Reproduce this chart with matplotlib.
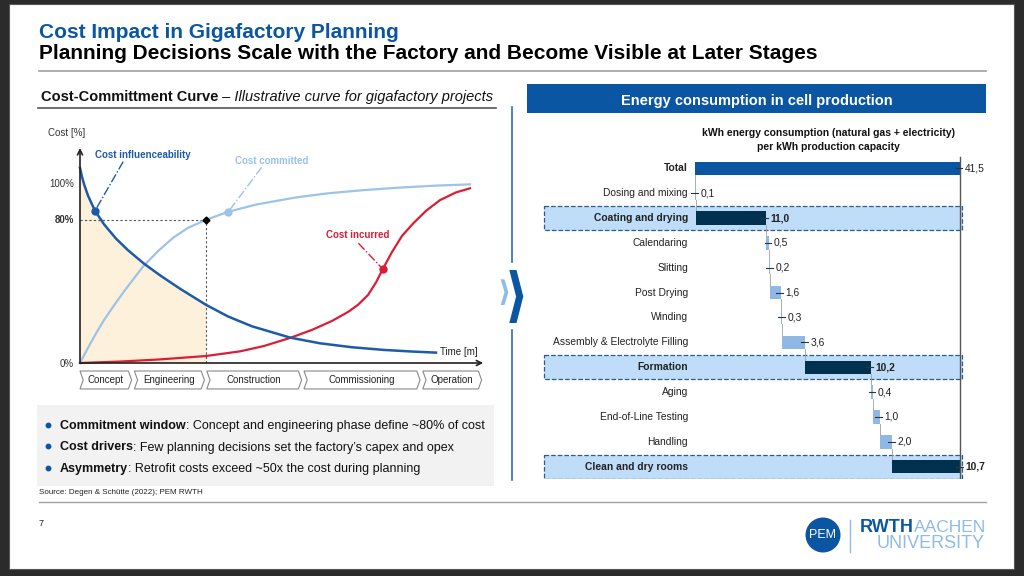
import matplotlib
matplotlib.use("Agg")
import matplotlib.pyplot as plt
from matplotlib import font_manager
from matplotlib.patches import Rectangle, Polygon, Circle

W, H = 1024, 576

# ---- left chart: cost-commitment curves (x = project time 0-100, y = cost %) ----
infl_x = [0, 0.5, 1, 2, 3.75, 6, 9, 12, 16, 20, 25, 31.5, 37, 43, 52.5, 60, 68, 76, 83, 89]
infl_y = [109, 104, 100, 93.5, 85, 77.5, 69.5, 63, 55.5, 49, 41.5, 32.5, 26, 20.5, 14.2, 11, 8.8, 7.3, 6.4, 5.8]

comm_x = [0, 2, 4, 6, 8.3, 11, 15.8, 19.5, 23.3, 27, 31.5, 37.1, 44, 54, 62, 71, 80, 89, 97.5]
comm_y = [0, 8.5, 16.5, 24, 31.5, 40, 54, 62.5, 70, 75.5, 80, 84.5, 88.5, 92.5, 94.8, 96.6, 98, 99.1, 99.8]

incu_x = [0, 10, 20, 31.5, 40, 46, 52.5, 58, 63, 67, 69.5, 72, 74, 75.7, 78, 80.5, 83.3, 86.5, 90, 94, 97.5]
incu_y = [0, 0.8, 2, 3.9, 6.5, 9.5, 14, 18.5, 23.5, 28.5, 32.5, 38, 45, 52.5, 62, 71, 78, 85, 91, 95.3, 97.6]

phase_names = ["Concept", "Engineering", "Construction", "Commissioning", "Operation"]
phase_start = [0, 13.6, 31.7, 56, 85.7]
phase_end = [12.9, 31.1, 55.4, 85, 100.4]

window_end = 31.5      # end of engineering phase
window_share = 80      # % of cost committed

bullet_bold = ["Commitment window", "Cost drivers", "Asymmetry"]
bullet_rest = [": Concept and engineering phase define ~80% of cost",
               ": Few planning decisions set the factory\u2019s capex and opex",
               ": Retrofit costs exceed ~50x the cost during planning"]

# ---- right chart: energy consumption waterfall ----
steps = ["Total", "Dosing and mixing", "Coating and drying", "Calendaring", "Slitting",
         "Post Drying", "Winding", "Assembly & Electrolyte Filling", "Formation",
         "Aging", "End-of-Line Testing", "Handling", "Clean and dry rooms"]
energy = [41.5, 0.1, 11.0, 0.5, 0.2, 1.6, 0.3, 3.6, 10.2, 0.4, 1.0, 2.0, 10.7]
highlight = ["Coating and drying", "Formation", "Clean and dry rooms"]

BLUE = "#0b56a3"
DARK = "#00324f"
LIGHT = "#8fb8e4"
PALE = "#bfdcf8"
RED = "#d91e36"
LBLUE = "#9cc3e9"

names = {f.name for f in font_manager.fontManager.ttflist}
NARROW = "Liberation Sans Narrow" if "Liberation Sans Narrow" in names else "Liberation Sans"
plt.rcParams["font.family"] = ["Liberation Sans", "DejaVu Sans"]

fig = plt.figure(figsize=(W / 100, H / 100), dpi=100, facecolor="#2b2b2b")
renderer = fig.canvas.get_renderer()


def px_axes(x0, y0, x1, y1):
    return fig.add_axes([x0 / W, 1 - y1 / H, (x1 - x0) / W, (y1 - y0) / H])


bg = px_axes(0, 0, W, H)
bg.set_xlim(0, W)
bg.set_ylim(H, 0)
bg.axis("off")
bg.add_patch(Rectangle((9, 4), 1005, 565, fc="white", ec="#555555", lw=0.8))


def rich(x, y, first, rest, size, w1="bold", s2="normal", color="#111111"):
    # y is the baseline
    t = bg.text(x, y, first, fontsize=size, fontweight=w1, va="baseline", color=color)
    x_end = t.get_window_extent(renderer).x1
    bg.text(x_end, y, rest, fontsize=size, fontstyle=s2, va="baseline", color=color)


# slide header
bg.text(39, 38, "Cost Impact in Gigafactory Planning", fontsize=15, fontweight="bold",
        color=BLUE, va="baseline")
bg.text(39, 59, "Planning Decisions Scale with the Factory and Become Visible at Later Stages",
        fontsize=15, fontweight="bold", color="black", va="baseline")
bg.plot([39, 986], [71, 71], color="#a0a0a0", lw=1.2)

# left column header
rich(41, 101, "Cost-Committment Curve", " \u2013 Illustrative curve for gigafactory projects",
     10.5, s2="italic")
bg.plot([38, 496], [107.7, 107.7], color="#555555", lw=1.2)

# bullets box
bg.add_patch(Rectangle((37, 405), 457, 81, fc="#f2f2f2", ec="none"))
for i, (b, r) in enumerate(zip(bullet_bold, bullet_rest)):
    y = 424.5 + i * 21.5
    bg.plot(48, y, "o", ms=3.2, color=BLUE)
    rich(60, y + 4.5, b, r, 9.0)

bg.text(39, 493, "Source: Degen & Sch\u00fctte (2022); PEM RWTH", fontsize=5.8, va="center",
        color="#222222")
bg.plot([39, 986], [502, 502], color="#a0a0a0", lw=1)
bg.text(39, 523, "7", fontsize=6.5, va="center", color="#222222")

# right header box
bg.add_patch(Rectangle((527, 84), 459, 29, fc=BLUE, ec="none"))
bg.text(757, 104.5, "Energy consumption in cell production", fontsize=10.5, fontweight="bold",
        color="white", ha="center", va="baseline")
bg.text(828, 133.3, "kWh energy consumption (natural gas + electricity)", fontsize=7.45,
        fontweight="bold", ha="center", va="center", color="#111111")
bg.text(828, 146.7, "per kWh production capacity", fontsize=7.45, fontweight="bold",
        ha="center", va="center", color="#111111")

# middle divider and chevrons
bg.plot([512, 512], [107, 262], color="#2e6db4", lw=1.2)
bg.plot([512, 512], [330, 480], color="#2e6db4", lw=1.2)
bg.add_patch(Polygon([(500.7, 279.3), (504.5, 279.3), (508.3, 292.2), (504.5, 305),
                      (500.7, 305), (504.5, 292.2)], closed=True, fc="#8fbbe8", ec="none"))
bg.add_patch(Polygon([(509.3, 270), (516.5, 270), (523.3, 296.5), (516.5, 323),
                      (509.3, 323), (516.1, 296.5)], closed=True, fc=BLUE, ec="none"))

# logos
bg.add_patch(Circle((823, 535), 17.5, fc=BLUE, ec="none"))
bg.text(823, 535.5, "PEM", fontsize=9, family=NARROW, color="white", ha="center", va="center")
bg.plot([850, 850], [520, 552], color="#8fbbe8", lw=1)
t = bg.text(860, 527, "RWTH", fontsize=13, family=NARROW, fontweight="bold", color=BLUE,
            va="center")
bg.text(t.get_window_extent(renderer).x1, 527, "AACHEN", fontsize=12.5, family=NARROW,
        color="#8fbbe8", va="center")
bg.text(985, 543, "UNIVERSITY", fontsize=13, family=NARROW, color="#8fbbe8",
        ha="right", va="center")

# ---- cost-commitment chart ----
ax = px_axes(40, 125, 500, 395)
ax.set_xlim(-10, 105)
ax.set_ylim(-17.88, 132.96)
ax.axis("off")
ax.patch.set_alpha(0)

n_fill = infl_x.index(window_end) + 1
ax.fill_between(infl_x[:n_fill], infl_y[:n_fill], 0, color="#fdf1dc", lw=0)
ax.plot([0, window_end], [window_share, window_share], color="#555555", lw=0.8, ls=(0, (2, 2)))
ax.plot([window_end, window_end], [0, window_share], color="#555555", lw=0.8, ls=(0, (2, 2)))

ax.plot(comm_x, comm_y, color=LBLUE, lw=1.6)
ax.plot(incu_x, incu_y, color=RED, lw=1.6)
ax.plot(infl_x, infl_y, color="#1d5ba6", lw=1.8)
ax.plot(window_end, window_share, "D", ms=3.5, color="black")

ax.plot(3.75, 85, "o", ms=5, color="#1d5ba6")
ax.plot(37.1, 84.5, "o", ms=5, color=LBLUE)
ax.plot(75.7, 52.5, "o", ms=5, color=RED)
ax.plot([10.8, 3.75], [112.5, 85], color="#1d5ba6", lw=1, ls="-.")
ax.plot([45.4, 37.1], [109.3, 84.5], color=LBLUE, lw=1, ls="-.")
ax.plot([69.6, 75.7], [66.9, 52.5], color=RED, lw=1, ls="-.")
ax.text(15.7, 116, "Cost influenceability", fontsize=7, fontweight="bold", color="#1d5ba6",
        ha="center", va="center")
ax.text(47.8, 112.8, "Cost committed", fontsize=7, fontweight="bold", color=LBLUE,
        ha="center", va="center")
ax.text(69.4, 71.5, "Cost incurred", fontsize=7, fontweight="bold", color=RED,
        ha="center", va="center")

arrow = dict(arrowstyle="->", lw=1.2, color="#222222", shrinkA=0, shrinkB=0, mutation_scale=9)
ax.annotate("", xy=(0, 120.1), xytext=(0, 0), arrowprops=arrow, annotation_clip=False)
ax.annotate("", xy=(100.8, 0), xytext=(0, 0), arrowprops=arrow, annotation_clip=False)
ax.text(-3.25, 128.5, "Cost [%]", fontsize=7, ha="center", va="center", color="#333333")
ax.text(-1.5, 100, "100%", fontsize=7, ha="right", va="center", color="#333333")
ax.text(-1.5, 80, "80%", fontsize=7, fontweight="bold", ha="right", va="center", color="#333333")
ax.text(-1.5, -0.5, "0%", fontsize=7, ha="right", va="center", color="#333333")
ax.text(94.8, 6.3, "Time [m]", fontsize=7, ha="center", va="center", color="#222222")

top, bot, d = -4.47, -14.5, 0.8
mid = (top + bot) / 2
for name, s, e in zip(phase_names, phase_start, phase_end):
    ax.add_patch(Polygon([(s, top), (e - d, top), (e, mid), (e - d, bot), (s, bot), (s + d, mid)],
                         closed=True, fc="white", ec="#8a8a8a", lw=0.8))
    ax.text((s + e) / 2, mid, name, fontsize=7, ha="center", va="center", color="#222222")

# ---- waterfall ----
aw = px_axes(540, 155.9, 990, 479.1)
aw.set_xlim(-24.27, 46.19)
aw.set_ylim(12.5, -0.5)
aw.axis("off")
aw.patch.set_alpha(0)

lefts, widths, colors = [], [], []
run = 0.0
for i, (name, v) in enumerate(zip(steps, energy)):
    if i == 0:
        lefts.append(0.0)
    else:
        lefts.append(run)
        run += v
    widths.append(v)
    colors.append(BLUE if i == 0 else (DARK if name in highlight else LIGHT))

rows = list(range(len(steps)))
for i, name in enumerate(steps):
    if name in highlight:
        aw.add_patch(Rectangle((-23.7, i - 0.48), 65.5, 0.96, fc=PALE, ec="#2d5b8c",
                               ls="--", lw=0.9, zorder=0))
aw.barh(rows, widths, left=lefts, height=0.54, color=colors, zorder=2)
for i in range(len(steps) - 1):
    x = lefts[i + 1]
    aw.plot([x, x], [i + 0.27, i + 0.73], color="#a0a0a0", lw=0.6, zorder=1)
aw.plot([energy[0], energy[0]], [-0.45, 12.45], color="#555555", lw=1, zorder=3)

for i, name in enumerate(steps):
    bold = name in highlight or i == 0
    aw.text(-1.1, i, name, fontsize=7.4, ha="right", va="center", color="#222222",
            fontweight="bold" if bold else "normal")
    end = lefts[i] + widths[i]
    aw.plot([end - 0.7, end + 0.35], [i, i], color="#333333", lw=0.8, zorder=4)
    aw.text(end + 0.75, i, f"{energy[i]:.1f}".replace(".", ","), fontsize=7.4, ha="left",
            va="center", color="#222222",
            fontweight="bold" if name in highlight else "normal")

fig.savefig("out.png", dpi=100, facecolor=fig.get_facecolor())
